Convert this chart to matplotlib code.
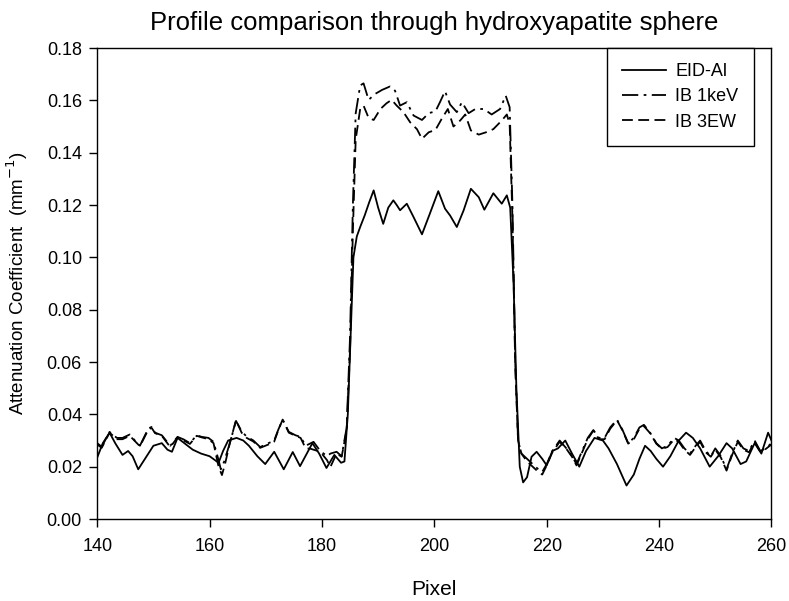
import numpy as np
import matplotlib
matplotlib.use('Agg')
import matplotlib.pyplot as plt

plt.rcParams['font.family'] = ['Liberation Sans Narrow', 'Liberation Sans', 'DejaVu Sans']

# EID-Al (solid)
eid_x = [140, 141, 142.2, 143.2, 144.5, 145.5, 146.3, 147.3, 148.5, 150, 151.5, 152.5, 153.3,
         154.3, 155.5, 157, 158.5, 160, 161.6, 162.4, 163.3, 164.8, 166, 167, 168.5, 169.9,
         171.5, 173.2, 174.8, 176.1, 177.3, 178.3, 179.5, 180.8, 182.2, 183.4, 184, 184.6,
         185.1, 185.6, 186.2, 186.8, 187.6, 188.4, 189.2, 190.0, 190.9, 191.8, 192.7, 193.3,
         193.9, 195.1, 196.3, 197.8, 199.2, 200.7, 201.9, 202.8, 204.0, 205.2, 206.5, 207.9,
         208.9, 210.5, 212.0, 212.9, 213.5, 214.1, 214.6, 215.2, 215.8, 216.5, 217.3, 218.2,
         219.2, 220.0, 221, 222, 223.3, 224.5, 225.8, 227, 228.5, 230, 231, 232.5, 234.2,
         235.5, 236.5, 237.5, 238.5, 239.5, 240.7, 242, 243.5, 244.8, 246, 247.3, 249, 250.5,
         252, 253, 254.5, 255.5, 257, 258.2, 259.4, 260]
eid_y = [0.0235, 0.029, 0.033, 0.029, 0.0245, 0.026, 0.024, 0.019, 0.023, 0.028, 0.029, 0.0265,
         0.0257, 0.031, 0.029, 0.0265, 0.025, 0.024, 0.0215, 0.026, 0.030, 0.031, 0.030, 0.028,
         0.024, 0.021, 0.0257, 0.019, 0.0256, 0.0202, 0.025, 0.029, 0.025, 0.0195, 0.0245,
         0.0215, 0.022, 0.040, 0.070, 0.100, 0.108, 0.1116, 0.116, 0.121, 0.1256, 0.119, 0.1128,
         0.119, 0.1218, 0.120, 0.118, 0.1205, 0.1154, 0.1088, 0.1167, 0.1253, 0.1186, 0.1160,
         0.1116, 0.1179, 0.1262, 0.123, 0.1182, 0.1245, 0.1205, 0.1237, 0.119, 0.090, 0.050,
         0.020, 0.014, 0.016, 0.0238, 0.0257, 0.023, 0.0205, 0.026, 0.027, 0.030, 0.025, 0.020,
         0.026, 0.031, 0.030, 0.027, 0.021, 0.0128, 0.017, 0.023, 0.028, 0.026, 0.023, 0.020,
         0.024, 0.030, 0.033, 0.031, 0.027, 0.020, 0.024, 0.029, 0.027, 0.021, 0.022, 0.029,
         0.025, 0.033, 0.030]

# IB 1keV (dash-dot)
kev_x = [140, 140.8, 142.2, 143.5, 144.5, 145.8, 146.7, 147.6, 149.1, 149.7, 150.3, 151.5, 153,
         154.3, 155.4, 156.5, 157.7, 158.6, 159.8, 160.7, 161.6, 162, 162.6, 163.6, 164.7,
         165.7, 166.6, 167.8, 169, 170.5, 171.5, 172.2, 173, 174.1, 175.3, 176.2, 177.1,
         178.5, 179.7, 180.9, 181.5, 182.6, 183.5, 184.4, 185, 185.5, 186, 186.8, 187.4,
         188.3, 189.5, 190.7, 192.1, 193.0, 193.9, 195.1, 196.3, 197.8, 199.0, 200.2, 201.0,
         201.9, 202.8, 204.0, 204.9, 206.1, 207.3, 208.8, 210.2, 211.7, 212.7, 213.4, 213.9,
         214.4, 214.9, 215.5, 216.5, 217.5, 218.5, 219.2, 220, 221, 222.3, 223.5, 224.5,
         225.3, 226.3, 227.3, 228.3, 229.3, 230.3, 231.3, 232.5, 233.5, 234.5, 235.5, 236.5,
         237.3, 238.4, 239.5, 240.5, 241.5, 242.7, 243.5, 244.5, 245.5, 246.5, 247.3, 248.3,
         249.2, 250, 251, 252, 253, 254, 255, 256, 257, 258, 259, 260]
kev_y = [0.029, 0.0276, 0.0333, 0.031, 0.031, 0.0323, 0.030, 0.028, 0.0346, 0.0352, 0.033,
         0.032, 0.028, 0.0314, 0.0304, 0.029, 0.032, 0.0314, 0.031, 0.0295, 0.0225, 0.019,
         0.022, 0.029, 0.0375, 0.0335, 0.0315, 0.030, 0.0275, 0.029, 0.030, 0.034, 0.038,
         0.0333, 0.032, 0.0314, 0.028, 0.0295, 0.026, 0.024, 0.025, 0.0257, 0.024, 0.035,
         0.070, 0.120, 0.155, 0.1657, 0.1665, 0.1602, 0.1625, 0.164, 0.1653, 0.1637, 0.158,
         0.1593, 0.1542, 0.1525, 0.1551, 0.1558, 0.1593, 0.1635, 0.1584, 0.1555, 0.1593,
         0.1551, 0.1567, 0.1567, 0.1546, 0.1567, 0.1618, 0.1574, 0.120, 0.060, 0.030, 0.025,
         0.023, 0.021, 0.019, 0.018, 0.021, 0.026, 0.030, 0.027, 0.024, 0.021, 0.026, 0.031,
         0.034, 0.031, 0.031, 0.035, 0.038, 0.034, 0.029, 0.031, 0.035, 0.036, 0.033, 0.029,
         0.027, 0.028, 0.031, 0.030, 0.027, 0.025, 0.028, 0.030, 0.026, 0.024, 0.027, 0.024,
         0.019, 0.025, 0.030, 0.027, 0.026, 0.030, 0.026, 0.027, 0.029]

# IB 3EW (dashed)
ew_x = [140, 140.8, 142.2, 143.5, 144.5, 145.8, 146.7, 147.6, 149.1, 149.7, 150.3, 151.5, 153,
        154.3, 155.4, 156.5, 157.7, 158.6, 159.8, 160.7, 161.6, 162.2, 162.8, 163.6, 164.7,
        165.7, 166.6, 167.8, 169, 170.5, 171.5, 172.2, 173, 174.1, 175.3, 176.2, 177.1,
        177.9, 179.7, 180.9, 181.5, 182.6, 183.5, 184.4, 185, 185.5, 186, 186.8, 187.4,
        188.3, 189.2, 190.4, 191.5, 192.4, 193.3, 194.5, 195.7, 196.9, 197.8, 199.0, 200.2,
        201.3, 202.4, 203.4, 204.6, 205.5, 206.5, 207.9, 209.2, 210.5, 212.0, 212.9, 213.4,
        213.9, 214.4, 214.9, 215.5, 216.5, 217.5, 218.5, 219.2, 220, 221, 222.3, 223.5,
        224.5, 225.3, 226.3, 227.3, 228.3, 229.3, 230.3, 231.3, 232.5, 233.5, 234.5, 235.5,
        236.5, 237.3, 238.4, 239.5, 240.5, 241.5, 242.7, 243.5, 244.5, 245.5, 246.5, 247.3,
        248.3, 249.2, 250, 251, 252, 253, 254, 255, 256, 257, 258, 259, 260]
ew_y = [0.0285, 0.0272, 0.0330, 0.0305, 0.0305, 0.0318, 0.0298, 0.0278, 0.0342, 0.0348,
        0.0328, 0.0318, 0.0275, 0.0312, 0.0300, 0.0287, 0.0318, 0.0312, 0.0305, 0.0290,
        0.0200, 0.0168, 0.0215, 0.029, 0.0378, 0.0330, 0.0310, 0.0296, 0.0272, 0.0285, 0.0296,
        0.0338, 0.0380, 0.0330, 0.0318, 0.0310, 0.0270, 0.0269, 0.0257, 0.0225, 0.0199,
        0.0250, 0.0238, 0.034, 0.065, 0.110, 0.145, 0.1567, 0.158, 0.1533, 0.1525, 0.1567,
        0.1589, 0.1602, 0.158, 0.1555, 0.1516, 0.149, 0.1453, 0.1478, 0.1487, 0.1529, 0.1567,
        0.150, 0.1523, 0.1546, 0.1485, 0.1469, 0.1478, 0.149, 0.1523, 0.1546, 0.151, 0.115,
        0.058, 0.030, 0.025, 0.022, 0.020, 0.018, 0.017, 0.0205, 0.0255, 0.0295, 0.0268,
        0.0238, 0.0205, 0.0255, 0.0305, 0.0338, 0.0305, 0.0305, 0.0345, 0.0378, 0.0338,
        0.0288, 0.0305, 0.0345, 0.0355, 0.0328, 0.0288, 0.0268, 0.0275, 0.0305, 0.0295,
        0.0265, 0.0245, 0.0275, 0.0295, 0.0255, 0.0238, 0.0265, 0.0235, 0.0185, 0.0245,
        0.0295, 0.0265, 0.0255, 0.0295, 0.0258, 0.0268, 0.0285]

fig = plt.figure(figsize=(7.89, 6.01), dpi=100)
ax = fig.add_axes([0.1232, 0.1364, 0.8546, 0.7837])

line_kw = dict(color='black', lw=1.3, solid_joinstyle='round', dash_joinstyle='round')
ax.plot(eid_x, eid_y, ls='-', label='EID-Al', **line_kw)
ax.plot(kev_x, kev_y, ls=(0, (9, 3, 1.5, 3)), label='IB 1keV', **line_kw)
ax.plot(ew_x, ew_y, ls=(0, (6, 3)), label='IB 3EW', **line_kw)

ax.set_xlim(140, 260)
ax.set_ylim(0, 0.18)
ax.set_xticks(np.arange(140, 261, 20))
ax.set_yticks(np.arange(0, 0.181, 0.02))
ax.set_yticklabels(['%.2f' % v for v in np.arange(0, 0.181, 0.02)])
ax.tick_params(direction='out', length=6, width=1, labelsize=13, pad=5)
ax.tick_params(axis='x', pad=8)
for s in ax.spines.values():
    s.set_linewidth(1.0)

ax.set_xlabel('Pixel', fontsize=15, labelpad=18)
ax.set_ylabel('Attenuation Coefficient  (mm$^{-1}$)', fontsize=13.5, labelpad=12)
ax.set_title('Profile comparison through hydroxyapatite sphere', fontsize=18.5, pad=13)

leg = ax.legend(loc='upper right', bbox_to_anchor=(0.974, 1.0), borderaxespad=0,
                fontsize=13, fancybox=False, edgecolor='black', framealpha=1,
                handlelength=2.4, labelspacing=0.45, borderpad=0.85, handletextpad=0.55)
leg.get_frame().set_linewidth(1.0)

fig.savefig('out.png', dpi=100)
